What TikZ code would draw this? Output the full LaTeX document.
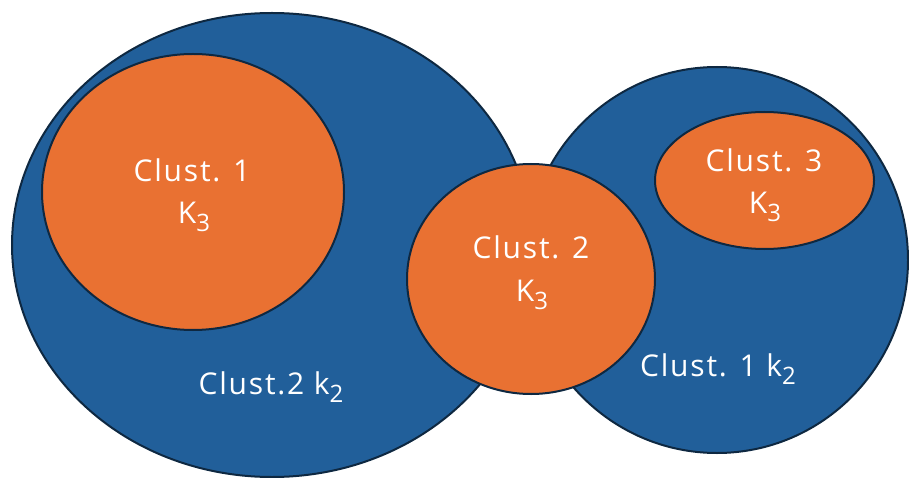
\documentclass[tikz,border=0pt]{standalone}
\usepackage{fontspec}
\setmainfont{Open Sans}[LetterSpace=6]
\usetikzlibrary{shapes.geometric}

\definecolor{clusterblue}{HTML}{215F9A}
\definecolor{clusterorange}{HTML}{E97132}
\definecolor{rimnavy}{HTML}{0E2841}

% lowered, slightly smaller index
\newcommand\lowidx[1]{\raisebox{-8pt}{\fontsize{24}{24}\selectfont #1}}

\tikzset{
  blob/.style={ellipse, draw=rimnavy, line width=2pt, inner sep=0pt, outer sep=0pt},
  outerblob/.style={blob, fill=clusterblue},
  innerblob/.style={blob, fill=clusterorange},
  lbl/.style={text=white, font=\fontsize{30}{34}\selectfont, inner sep=0pt, anchor=base}
}

\begin{document}
\begin{tikzpicture}[x=1pt, y=-1pt]
  \useasboundingbox (0,0) rectangle (909,478);

  % the two k2 clusters
  \node[outerblob, minimum width=520pt, minimum height=464pt] (big2) at (272,245) {};
  \node[outerblob, minimum width=382pt, minimum height=386pt] (big1) at (717,260) {};

  % the three K3 clusters
  \node[innerblob, minimum width=302pt, minimum height=276pt] (small1) at (193,192) {};
  \node[innerblob, minimum width=248pt, minimum height=230pt] (small2) at (531,279) {};
  \node[innerblob, minimum width=219pt, minimum height=137pt] (small3) at (764.5,180.5) {};

  % labels
  \node[lbl] (s1a) at (192,182) {Clust. 1};
  \node[lbl] (s1b) at (194,223) {K\lowidx{3}};
  \node[lbl] (s2a) at (531,258) {Clust. 2};
  \node[lbl] (s2b) at (532,301) {K\lowidx{3}};
  \node[lbl] (s3a) at (764,172) {Clust. 3};
  \node[lbl] (s3b) at (765,214) {K\lowidx{3}};
  \node[lbl] (b2) at (271,394) {Clust.2 k\lowidx{2}};
  \node[lbl] (b1) at (718,376) {Clust. 1 k\lowidx{2}};
\end{tikzpicture}
\end{document}
